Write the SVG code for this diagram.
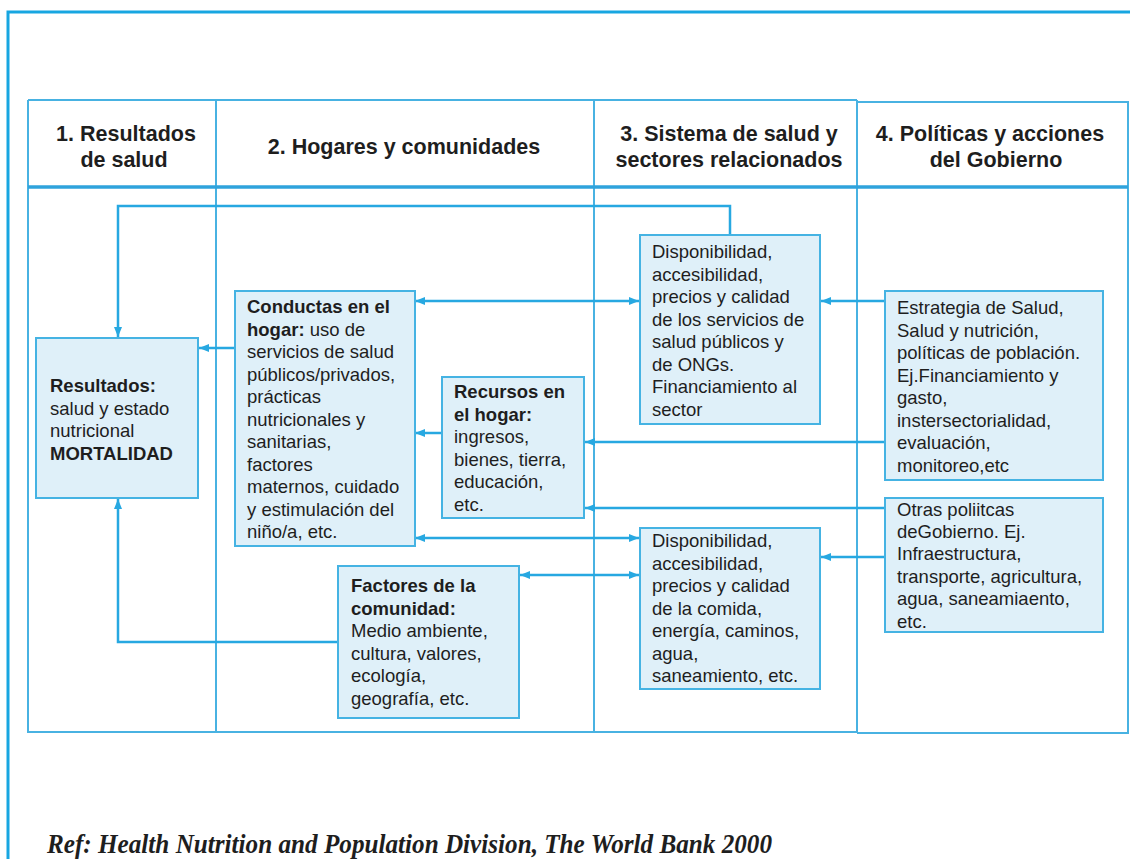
<svg xmlns="http://www.w3.org/2000/svg" width="1130" height="859" viewBox="0 0 1130 859">
<style>
.frame{fill:none;stroke:#17a6e1;stroke-width:3}
.grid{fill:none;stroke:#48b2e2;stroke-width:2}
.sep{fill:none;stroke:#2fa3dc;stroke-width:3.5}
.box{fill:#dff0f9;stroke:#45b3e3;stroke-width:2}
.con{fill:none;stroke:#27a8e1;stroke-width:2.5}
.t{font-family:"Liberation Sans",Arial,sans-serif;font-size:18.5px;fill:#1e1e1e}
.b{font-weight:bold}
.h{font-family:"Liberation Sans",Arial,sans-serif;font-size:21.5px;font-weight:bold;fill:#1e1e1e;text-anchor:middle}
.ref{font-family:"Liberation Serif","Times New Roman",serif;font-size:28px;font-style:italic;font-weight:bold;fill:#1e1e1e}
</style>
<defs>
<marker id="ah" viewBox="0 0 10 8" refX="10" refY="4" markerWidth="10" markerHeight="8" markerUnits="userSpaceOnUse" orient="auto-start-reverse">
<path d="M0,0 L10,4 L0,8 z" fill="#27a8e1"/>
</marker>
</defs>
<rect width="1130" height="859" fill="#ffffff"/>
<g id="page-frame">
<path class="frame" d="M8,859 V12 H1130"/>
</g>
<g id="table">
<path class="grid" d="M28,100 H857 M857,102 H1128 V733 H857 M857,732 H28 V100"/>
<path class="grid" d="M216,100 V732 M594,100 V732 M857,100 V733"/>
<path class="sep" d="M28,187 H1128"/>
</g>
<g id="headers">
<text class="h" x="126" y="141">1. Resultados</text>
<text class="h" x="124" y="167">de salud</text>
<text class="h" x="404" y="154">2. Hogares y comunidades</text>
<text class="h" x="729" y="141">3. Sistema de salud y</text>
<text class="h" x="729" y="167">sectores relacionados</text>
<text class="h" x="990" y="141">4. Políticas y acciones</text>
<text class="h" x="996" y="167">del Gobierno</text>
</g>
<g id="connectors">
<path class="con" d="M730,235 V206 H118 V337" marker-end="url(#ah)"/>
<path class="con" d="M235,348 H199" marker-end="url(#ah)"/>
<path class="con" d="M415,301 H639" marker-start="url(#ah)" marker-end="url(#ah)"/>
<path class="con" d="M885,301 H821" marker-end="url(#ah)"/>
<path class="con" d="M442,433 H415" marker-end="url(#ah)"/>
<path class="con" d="M885,442 H585" marker-end="url(#ah)"/>
<path class="con" d="M885,508 H585" marker-end="url(#ah)"/>
<path class="con" d="M415,538 H639" marker-start="url(#ah)" marker-end="url(#ah)"/>
<path class="con" d="M885,557 H821" marker-end="url(#ah)"/>
<path class="con" d="M520,575 H639" marker-start="url(#ah)" marker-end="url(#ah)"/>
<path class="con" d="M338,642 H118 V499" marker-end="url(#ah)"/>
</g>
<g id="resultados">
<rect class="box" x="36" y="338" width="162" height="160"/>
<text class="t" x="50" y="392"><tspan class="b">Resultados:</tspan><tspan x="50" dy="22.5">salud y estado</tspan><tspan x="50" dy="22.5">nutricional</tspan><tspan x="50" dy="22.5" class="b">MORTALIDAD</tspan></text>
</g>
<g id="conductas">
<rect class="box" x="235" y="291" width="180" height="255"/>
<text class="t" x="247" y="313"><tspan class="b">Conductas en el</tspan><tspan x="247" dy="22.5"><tspan class="b">hogar:</tspan> uso de</tspan><tspan x="247" dy="22.5">servicios de salud</tspan><tspan x="247" dy="22.5">públicos/privados,</tspan><tspan x="247" dy="22.5">prácticas</tspan><tspan x="247" dy="22.5">nutricionales y</tspan><tspan x="247" dy="22.5">sanitarias,</tspan><tspan x="247" dy="22.5">factores</tspan><tspan x="247" dy="22.5">maternos, cuidado</tspan><tspan x="247" dy="22.5">y estimulación del</tspan><tspan x="247" dy="22.5">niño/a, etc.</tspan></text>
</g>
<g id="recursos">
<rect class="box" x="442" y="377" width="142" height="141"/>
<text class="t" x="454" y="398"><tspan class="b">Recursos en</tspan><tspan x="454" dy="22.5" class="b">el hogar:</tspan><tspan x="454" dy="22.5">ingresos,</tspan><tspan x="454" dy="22.5">bienes, tierra,</tspan><tspan x="454" dy="22.5">educación,</tspan><tspan x="454" dy="22.5">etc.</tspan></text>
</g>
<g id="factores">
<rect class="box" x="338" y="566" width="181" height="152"/>
<text class="t" x="351" y="592"><tspan class="b">Factores de la</tspan><tspan x="351" dy="22.5" class="b">comunidad:</tspan><tspan x="351" dy="22.5">Medio ambiente,</tspan><tspan x="351" dy="22.5">cultura, valores,</tspan><tspan x="351" dy="22.5">ecología,</tspan><tspan x="351" dy="22.5">geografía, etc.</tspan></text>
</g>
<g id="servicios-salud">
<rect class="box" x="640" y="235" width="180" height="189"/>
<text class="t" x="652" y="258"><tspan>Disponibilidad,</tspan><tspan x="652" dy="22.5">accesibilidad,</tspan><tspan x="652" dy="22.5">precios y calidad</tspan><tspan x="652" dy="22.5">de los servicios de</tspan><tspan x="652" dy="22.5">salud públicos y</tspan><tspan x="652" dy="22.5">de ONGs.</tspan><tspan x="652" dy="22.5">Financiamiento al</tspan><tspan x="652" dy="22.5">sector</tspan></text>
</g>
<g id="comida-infra">
<rect class="box" x="640" y="528" width="180" height="161"/>
<text class="t" x="652" y="547"><tspan>Disponibilidad,</tspan><tspan x="652" dy="22.5">accesibilidad,</tspan><tspan x="652" dy="22.5">precios y calidad</tspan><tspan x="652" dy="22.5">de la comida,</tspan><tspan x="652" dy="22.5">energía, caminos,</tspan><tspan x="652" dy="22.5">agua,</tspan><tspan x="652" dy="22.5">saneamiento, etc.</tspan></text>
</g>
<g id="estrategia">
<rect class="box" x="885" y="291" width="218" height="189"/>
<text class="t" x="897" y="314"><tspan>Estrategia de Salud,</tspan><tspan x="897" dy="22.5">Salud y nutrición,</tspan><tspan x="897" dy="22.5">políticas de población.</tspan><tspan x="897" dy="22.5">Ej.Financiamiento y</tspan><tspan x="897" dy="22.5">gasto,</tspan><tspan x="897" dy="22.5">instersectorialidad,</tspan><tspan x="897" dy="22.5">evaluación,</tspan><tspan x="897" dy="22.5">monitoreo,etc</tspan></text>
</g>
<g id="otras-politicas">
<rect class="box" x="885" y="498" width="218" height="134"/>
<text class="t" x="897" y="515.5"><tspan>Otras poliitcas</tspan><tspan x="897" dy="22.4">deGobierno. Ej.</tspan><tspan x="897" dy="22.4">Infraestructura,</tspan><tspan x="897" dy="22.4">transporte, agricultura,</tspan><tspan x="897" dy="22.4">agua, saneamiaento,</tspan><tspan x="897" dy="22.4">etc.</tspan></text>
</g>
<g id="reference">
<text class="ref" x="47" y="853" textLength="725" lengthAdjust="spacingAndGlyphs">Ref: Health Nutrition and Population Division, The World Bank 2000</text>
</g>
</svg>
